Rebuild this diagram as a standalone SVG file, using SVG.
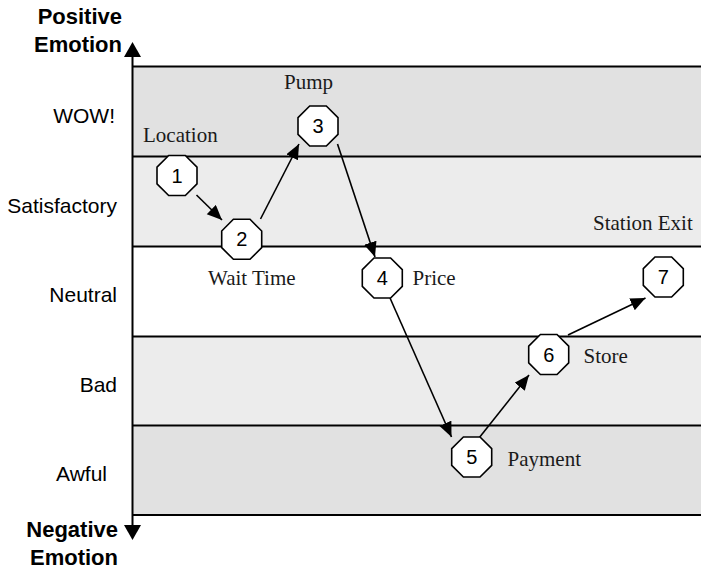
<svg xmlns="http://www.w3.org/2000/svg" width="701" height="570" viewBox="0 0 701 570">
<style>
.axis{font-family:"Liberation Sans",Arial,sans-serif;font-weight:bold;font-size:22px;fill:#000;text-anchor:end}
.lvl{font-family:"Liberation Sans",Arial,sans-serif;font-size:21px;fill:#000;text-anchor:end}
.lbl{font-family:"Liberation Serif","Times New Roman",serif;font-size:21px;fill:#1a1a1a}
.num{font-family:"Liberation Sans",Arial,sans-serif;font-size:20px;fill:#000;text-anchor:middle}
.oct{fill:#fff;stroke:#000;stroke-width:1.6}
.hl{stroke:#000;stroke-width:2}
.conn{stroke:#000;stroke-width:1.6;fill:none;marker-end:url(#ah)}
</style>
<defs>
<marker id="ah" markerUnits="userSpaceOnUse" markerWidth="16" markerHeight="14" refX="15" refY="6.5" orient="auto">
<path d="M0,0 L15,6.5 L0,13 z" fill="#000"/>
</marker>
<polygon id="octShape" points="-8.3,-20 8.3,-20 20,-8.3 20,8.3 8.3,20 -8.3,20 -20,8.3 -20,-8.3"/>
</defs>
<g id="bands">
<rect x="132.5" y="66.5" width="570" height="90" fill="#e1e1e1"/>
<rect x="132.5" y="156.5" width="570" height="90" fill="#ececec"/>
<rect x="132.5" y="246.5" width="570" height="90" fill="#ffffff"/>
<rect x="132.5" y="336.5" width="570" height="90" fill="#ececec"/>
<rect x="132.5" y="426.5" width="570" height="89" fill="#e1e1e1"/>
<line class="hl" x1="132" y1="66.5" x2="701" y2="66.5"/>
<line class="hl" x1="132" y1="156.5" x2="701" y2="156.5"/>
<line class="hl" x1="132" y1="246.5" x2="701" y2="246.5"/>
<line class="hl" x1="132" y1="336.5" x2="701" y2="336.5"/>
<line class="hl" x1="132" y1="425.5" x2="701" y2="425.5"/>
<line class="hl" x1="132" y1="515" x2="701" y2="515"/>
</g>
<g id="axis">
<line class="hl" x1="132.5" y1="55" x2="132.5" y2="527"/>
<polygon points="124,57 141,57 132.5,42" fill="#000"/>
<polygon points="124,525 141,525 132.5,540" fill="#000"/>
<text class="axis" x="122" y="24">Positive</text>
<text class="axis" x="122" y="51.5">Emotion</text>
<text class="axis" x="118" y="536.5">Negative</text>
<text class="axis" x="118" y="565">Emotion</text>
</g>
<g id="levels">
<text class="lvl" x="115" y="122.5">WOW!</text>
<text class="lvl" x="117" y="212.5">Satisfactory</text>
<text class="lvl" x="117" y="301.5">Neutral</text>
<text class="lvl" x="117" y="391.5">Bad</text>
<text class="lvl" x="107" y="480.5">Awful</text>
</g>
<g id="connectors">
<line class="conn" x1="196.5" y1="195" x2="222" y2="220"/>
<line class="conn" x1="260.5" y1="219" x2="299" y2="144"/>
<line class="conn" x1="337.5" y1="144" x2="375" y2="257"/>
<line class="conn" x1="390" y1="298" x2="451.5" y2="437"/>
<line class="conn" x1="479" y1="438" x2="529" y2="375"/>
<line class="conn" x1="568" y1="335" x2="645.5" y2="298"/>
</g>
<g id="node1"><use href="#octShape" class="oct" transform="translate(177,175.5)"/><text class="num" x="177" y="182.5">1</text><text class="lbl" x="143" y="141.5">Location</text></g>
<g id="node2"><use href="#octShape" class="oct" transform="translate(241.7,239.3)"/><text class="num" x="241.7" y="246.3">2</text><text class="lbl" x="208" y="285">Wait Time</text></g>
<g id="node3"><use href="#octShape" class="oct" transform="translate(318,126)"/><text class="num" x="318" y="133">3</text><text class="lbl" x="284" y="89">Pump</text></g>
<g id="node4"><use href="#octShape" class="oct" transform="translate(382.3,278)"/><text class="num" x="382.3" y="285">4</text><text class="lbl" x="412.5" y="285">Price</text></g>
<g id="node5"><use href="#octShape" class="oct" transform="translate(471.7,457)"/><text class="num" x="471.7" y="464">5</text><text class="lbl" x="507.5" y="466">Payment</text></g>
<g id="node6"><use href="#octShape" class="oct" transform="translate(548.7,354.5)"/><text class="num" x="548.7" y="361.5">6</text><text class="lbl" x="583.5" y="363">Store</text></g>
<g id="node7"><use href="#octShape" class="oct" transform="translate(663.3,277)"/><text class="num" x="663.3" y="284">7</text><text class="lbl" x="593" y="230">Station Exit</text></g>
</svg>
